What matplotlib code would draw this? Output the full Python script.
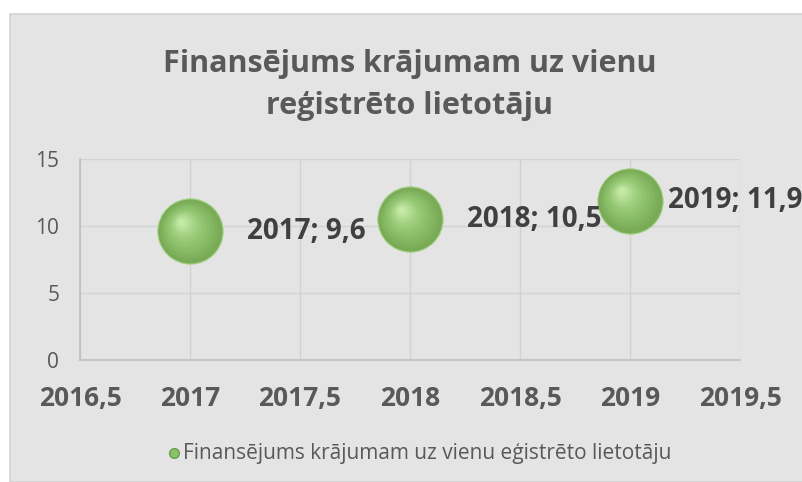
import matplotlib
matplotlib.use("Agg")
import matplotlib.pyplot as plt
import numpy as np
from matplotlib.patches import Rectangle
from matplotlib.transforms import offset_copy
from matplotlib.colors import to_rgb

years = [2017, 2018, 2019]
values = [9.6, 10.5, 11.9]
labels = ["2017; 9,6", "2018; 10,5", "2019; 11,9"]
x_ticks = [2016.5, 2017, 2017.5, 2018, 2018.5, 2019, 2019.5]
x_tick_labels = ["2016,5", "2017", "2017,5", "2018", "2018,5", "2019", "2019,5"]
y_ticks = [0, 5, 10, 15]
title = "Finansējums krājumam uz vienu\nreģistrēto lietotāju"
legend_label = "Finansējums krājumam uz vienu eģistrēto lietotāju"

W, H = 803, 482
fig = plt.figure(figsize=(W / 100, H / 100), dpi=100)
fig.patch.set_facecolor("white")
bg = "#e4e4e4"
fig.patches.append(Rectangle((10 / W, 0), 1, 1 - 14 / H, transform=fig.transFigure,
                             facecolor=bg, edgecolor="#d2d2d2", linewidth=1.2, zorder=-5))

ax = fig.add_axes([80 / W, 1 - 360 / H, (740 - 80) / W, (360 - 159) / H], zorder=2)
ax.set_facecolor(bg)
ax.set_xlim(2016.5, 2019.5)
ax.set_ylim(0, 15)
ax.set_xticks(x_ticks)
ax.set_xticklabels(x_tick_labels)
ax.set_yticks(y_ticks)
ax.grid(True, color="#d2d2d2", linewidth=1.0)
ax.set_axisbelow(True)
for s in ["top", "right"]:
    ax.spines[s].set_visible(False)
for s in ["left", "bottom"]:
    ax.spines[s].set_color("#bfbfbf")
    ax.spines[s].set_linewidth(1.2)
ax.tick_params(axis="x", length=0, pad=18)
ax.tick_params(axis="y", length=0, pad=15)
for t in ax.get_xticklabels():
    t.set_fontsize(19)
    t.set_fontweight("bold")
    t.set_color("#595959")
    t.set_fontfamily("Open Sans")
for t in ax.get_yticklabels():
    t.set_fontsize(15)
    t.set_color("#595959")
    t.set_fontfamily("Open Sans")

# sphere-like markers built from concentric shaded discs
D = 47.0  # points
edge = np.array(to_rgb("#76a853"))
mid = np.array(to_rgb("#92c570"))
hi = np.array(to_rgb("#c6eaa6"))
ax.scatter(years, values, s=D ** 2, color="#7aab57", edgecolor="#a6d488", linewidth=0.8,
           zorder=3, clip_on=False)
n = 18
for i in range(1, n):
    t = i / (n - 1)
    d = D * (1 - 0.9 * t)
    if t < 0.5:
        c = edge + (mid - edge) * (t / 0.5)
    else:
        c = mid + (hi - mid) * ((t - 0.5) / 0.5) ** 1.2
    tr = offset_copy(ax.transData, fig=fig, x=-6.5 * t, y=7.0 * t, units="points")
    ax.scatter(years, values, s=d ** 2, color=c, linewidth=0, zorder=4, transform=tr, clip_on=False)

offsets = [(41, 0), (41, 0), (27, 0)]
for x, y, lab, (ox, oy) in zip(years, values, labels, offsets):
    ax.annotate(lab, (x, y), xytext=(ox, oy), textcoords="offset points",
                fontsize=20, fontweight="bold", color="#404040", va="center", ha="left",
                fontfamily="Open Sans", zorder=5, annotation_clip=False)

fig.text(410 / W, 1 - 85 / H, title, ha="center", va="center", fontsize=22, fontweight="bold",
         color="#595959", fontfamily="Open Sans", linespacing=1.55)

# legend
fig.lines.append(plt.Line2D([174 / W], [1 - 453 / H], marker="o", markersize=7,
                            markerfacecolor="#8cc26a", markeredgecolor="#6a9c4a",
                            transform=fig.transFigure))
fig.text(183 / W, 1 - 453 / H, legend_label, ha="left", va="center", fontsize=15,
         color="#595959", fontfamily="Open Sans")

fig.savefig("out.png", dpi=100, facecolor=fig.get_facecolor())
